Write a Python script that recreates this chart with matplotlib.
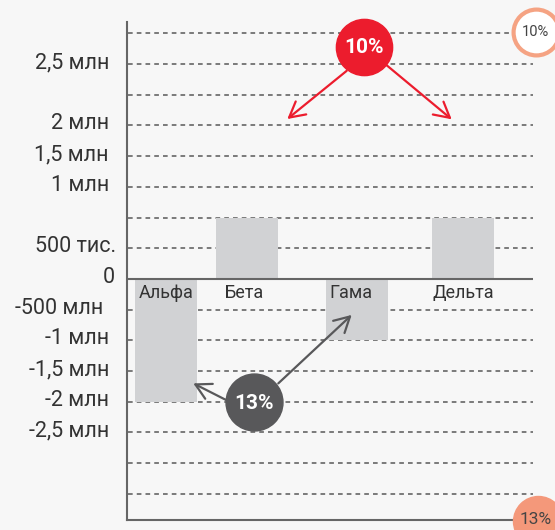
import matplotlib

matplotlib.use("Agg")
import matplotlib.pyplot as plt
import matplotlib.transforms as mtransforms

# data (bar heights in grid steps, as drawn)
categories = ["Альфа", "Бета", "Гама", "Дельта"]
values = [-4, 2, -2, 2]
tick_pos = [7, 5, 4, 3, 1, 0, -1, -2, -3, -4, -5]
tick_labels = ["2,5 млн", "2 млн", "1,5 млн", "1 млн", "500 тис.", "0",
               "-500 млн", "-1 млн", "-1,5 млн", "-2 млн", "-2,5 млн"]
badge_red = "10%"
badge_dark = "13%"

# layout (x in pixels of the frame, y in grid steps)
bar_x = [166, 247, 357, 463]
bar_w = 62
label_dx = [0, -3, -6, 0]
tick_dx = [0, 0, 0, 0, 7, 6, -6, 0, 0, 0, 0]

BG = "#f7f7f7"
BAR = "#d1d2d4"
GRID = "#7a7a7a"
AXIS = "#666666"
RED = "#ec1c2d"
DARK = "#58585a"
SALMON = "#f4987a"
RING = "#f5a383"

plt.rcParams["font.family"] = ["Roboto", "DejaVu Sans"]

fig = plt.figure(figsize=(5.55, 5.30), dpi=100, facecolor=BG)
ax = fig.add_axes([127 / 555, 10 / 530, 428 / 555, 498 / 530], facecolor=BG)
ax.set_xlim(127, 555)
ax.set_ylim(-7.85, 8.37)

# grid
for g in range(-7, 9):
    if g == 0:
        continue
    ax.hlines(g, 128, 533, colors=GRID, lw=1.4, linestyles=(0, (2.4, 2.1)), zorder=1)
ax.hlines(0, 127, 533, colors=AXIS, lw=1.5, zorder=3)

ax.bar(bar_x, values, width=bar_w, color=BAR, zorder=2)
for x, dx, c in zip(bar_x, label_dx, categories):
    ax.text(x + dx, -0.62, c, ha="center", va="baseline", fontsize=13,
            color="#333333", zorder=4)

for s in ["top", "right"]:
    ax.spines[s].set_visible(False)
for s in ["left", "bottom"]:
    ax.spines[s].set_color(AXIS)
    ax.spines[s].set_linewidth(1.5)

ax.set_xticks([])
ax.set_yticks(tick_pos)
ax.set_yticklabels(tick_labels, fontsize=15.5, color="#333333")
ax.tick_params(axis="y", length=0, pad=13)
for lab, dx in zip(ax.get_yticklabels(), tick_dx):
    shift = mtransforms.ScaledTranslation(dx / 100, 4 / 100, fig.dpi_scale_trans)
    lab.set_transform(lab.get_transform() + shift)

# red badge and arrows
head = "->,head_length=0.55,head_width=0.3"
ax.plot(364.3, 7.57, "o", ms=40.5, color=RED, mec=RED, zorder=6, clip_on=False)
ax.text(364.3, 7.55, badge_red, color="white", fontsize=15, fontweight="bold",
        ha="center", va="center", zorder=7)
for tip, start in [((287.3, 5.21), (346.7, 6.78)), ((451.7, 5.2), (386.7, 6.96))]:
    ax.annotate("", xy=tip, xytext=start, zorder=5,
                arrowprops=dict(arrowstyle=head, color=RED, lw=1.6,
                                mutation_scale=20, shrinkA=0, shrinkB=0))

# dark badge and arrows
ax.plot(253.8, -4.02, "o", ms=41, color=DARK, mec=DARK, zorder=6, clip_on=False)
ax.text(253.8, -4.04, badge_dark, color="white", fontsize=15, fontweight="bold",
        ha="center", va="center", zorder=7)
for tip, start in [((193.3, -3.40), (226, -3.94)), ((351.7, -1.17), (278.3, -3.40))]:
    ax.annotate("", xy=tip, xytext=start, zorder=5,
                arrowprops=dict(arrowstyle=head, color=DARK, lw=1.6,
                                mutation_scale=20, shrinkA=0, shrinkB=0))

# corner badges
ax.plot(535.7, 8.06, "o", ms=33, color="white", mec=RING, mew=3, zorder=6, clip_on=False)
ax.text(535.7, 8.06, badge_red, color="#444444", fontsize=10.5,
        ha="center", va="center", zorder=7, clip_on=False)
ax.plot(537.7, -7.88, "o", ms=36, color=SALMON, mec=SALMON, zorder=6, clip_on=False)
ax.text(536, -7.82, badge_dark, color="#444444", fontsize=12.5,
        ha="center", va="center", zorder=7, clip_on=False)

fig.savefig("out.png", dpi=100, facecolor=BG)
